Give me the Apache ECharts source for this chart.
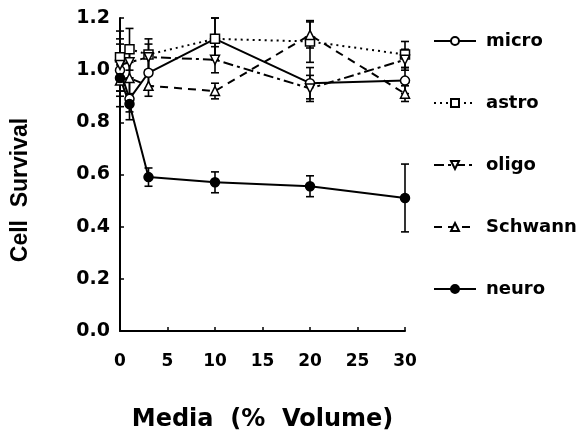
<!DOCTYPE html>
<html>
<head>
<meta charset="utf-8">
<script src="https://cdn.jsdelivr.net/npm/echarts@6/dist/echarts.min.js"></script>
<style>
  html, body { margin: 0; padding: 0; background: #fff; }
  #chart { width: 586px; height: 437px; }
</style>
</head>
<body>
<div id="chart"></div>
<script>
// media volume (%)
const volumes = [0, 1, 3, 10, 20, 30];

// cell survival per cell type
const micro = [1.0, 0.89, 0.99, 1.12, 0.95, 0.96];
const astro = [1.05, 1.08, 1.06, 1.12, 1.11, 1.06];
const oligo = [1.02, 1.03, 1.05, 1.04, 0.93, 1.04];
const schwann = [0.96, 0.97, 0.94, 0.92, 1.135, 0.91];
const neuro = [0.97, 0.87, 0.59, 0.57, 0.555, 0.51];

// error (+/-)
const microErr = [0.1, 0.08, 0.06, 0.08, 0.06, 0.05];
const astroErr = [0.1, 0.08, 0.06, 0.08, 0.08, 0.05];
const oligoErr = [0.1, 0.06, 0.05, 0.05, 0.05, 0.04];
const schwannErr = [0.1, 0.06, 0.04, 0.03, 0.05, 0.03];
const neuroErr = [0.05, 0.03, 0.035, 0.04, 0.04, 0.13];

const yTicks = [0, 0.2, 0.4, 0.6, 0.8, 1.0, 1.2];

const font = "DejaVu Sans";

const pairs = (vals) => volumes.map((x, i) => [x, vals[i]]);
const bars = (vals, err) => volumes.map((x, i) => [x, vals[i] - err[i], vals[i] + err[i]]);

const renderErr = function (params, api) {
  const x = api.value(0);
  const lo = api.coord([x, api.value(1)]);
  const hi = api.coord([x, api.value(2)]);
  const w = 4;
  const st = { stroke: "#000", lineWidth: 1.6 };
  return {
    type: "group",
    children: [
      { type: "line", shape: { x1: lo[0], y1: lo[1], x2: hi[0], y2: hi[1] }, style: st },
      { type: "line", shape: { x1: hi[0] - w, y1: hi[1], x2: hi[0] + w, y2: hi[1] }, style: st },
      { type: "line", shape: { x1: lo[0] - w, y1: lo[1], x2: lo[0] + w, y2: lo[1] }, style: st },
    ],
  };
};

const lineSeries = (name, vals, symbol, dash, fill, rotate) => ({
  name: name,
  type: "line",
  data: pairs(vals),
  symbol: symbol,
  symbolSize: 9,
  symbolRotate: rotate || 0,
  clip: false,
  z: 3,
  lineStyle: { color: "#000", width: 2, type: dash },
  itemStyle: { color: fill, borderColor: "#000", borderWidth: 1.5 },
});

const errSeries = (vals, err) => ({
  type: "custom",
  renderItem: renderErr,
  data: bars(vals, err),
  encode: { x: 0, y: [1, 2] },
  clip: false,
  silent: true,
  z: 2,
});

const chart = echarts.init(document.getElementById("chart"), null, { renderer: "canvas" });

chart.setOption({
  animation: false,
  backgroundColor: "#fff",
  grid: { left: 120, right: 181, top: 18, bottom: 105 },
  legend: {
    orient: "vertical",
    left: 428,
    top: 27,
    itemWidth: 42,
    itemHeight: 10,
    itemGap: 44,
    data: ["micro", "astro", "oligo", "Schwann", "neuro"],
    textStyle: {
      fontFamily: font,
      fontWeight: "bold",
      fontSize: 18,
      color: "#000",
      padding: [0, 0, 0, 5],
    },
  },
  graphic: [
    {
      type: "text",
      x: 21,
      y: 190,
      rotation: Math.PI / 2,
      style: {
        text: "Cell  Survival",
        fontFamily: "Liberation Sans",
        fontWeight: "bold",
        fontSize: 23,
        fill: "#000",
        textAlign: "center",
        textVerticalAlign: "middle",
      },
    },
  ],
  xAxis: {
    type: "value",
    min: 0,
    max: 30,
    interval: 5,
    name: "Media  (%  Volume)",
    nameLocation: "middle",
    nameGap: 77,
    nameTextStyle: { fontFamily: font, fontWeight: "bold", fontSize: 24, color: "#000" },
    axisLine: { lineStyle: { color: "#000", width: 2 } },
    axisTick: { inside: true, length: 4, lineStyle: { color: "#000", width: 1.5 } },
    axisLabel: { margin: 22, fontFamily: font, fontWeight: "bold", fontSize: 17, color: "#000" },
    splitLine: { show: false },
  },
  yAxis: {
    type: "value",
    min: yTicks[0],
    max: yTicks[yTicks.length - 1],
    interval: 0.2,
    axisLine: { show: true, lineStyle: { color: "#000", width: 2 } },
    axisTick: { show: true, inside: true, length: 4, lineStyle: { color: "#000", width: 1.5 } },
    axisLabel: {
      margin: 10,
      fontFamily: font,
      fontWeight: "bold",
      fontSize: 19,
      color: "#000",
      formatter: (v) => v.toFixed(1),
    },
    splitLine: { show: false },
  },
  series: [
    errSeries(micro, microErr),
    errSeries(astro, astroErr),
    errSeries(oligo, oligoErr),
    errSeries(schwann, schwannErr),
    errSeries(neuro, neuroErr),
    lineSeries("micro", micro, "circle", "solid", "#fff"),
    lineSeries("astro", astro, "rect", [2, 4], "#fff"),
    lineSeries("oligo", oligo, "triangle", [10, 4, 3, 4], "#fff", 180),
    lineSeries("Schwann", schwann, "triangle", [8, 6], "#fff"),
    lineSeries("neuro", neuro, "circle", "solid", "#000"),
  ],
});
</script>
</body>
</html>
